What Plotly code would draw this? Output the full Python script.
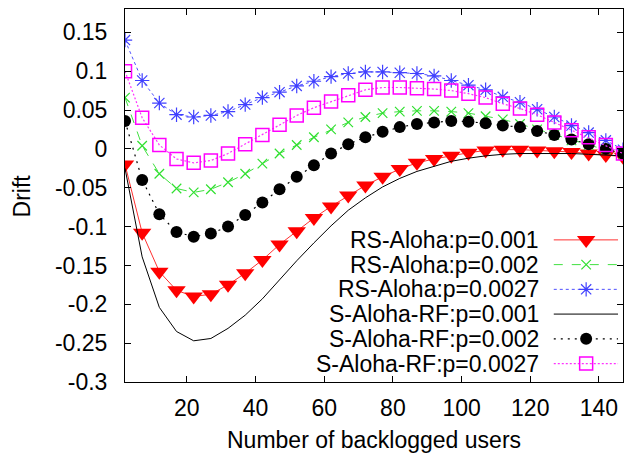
import plotly.graph_objects as go

# ---- data ----
users = [2, 7, 12, 17, 22, 27, 32, 37, 42, 47, 52, 57, 62, 67, 72, 77, 82, 87, 92, 97,
         102, 107, 112, 117, 122, 127, 132, 137, 142, 147]

rs_p001 = [-0.020, -0.108, -0.158, -0.182, -0.190, -0.187, -0.175, -0.160, -0.143, -0.123,
           -0.106, -0.089, -0.074, -0.060, -0.047, -0.036, -0.026, -0.018, -0.013, -0.009,
           -0.005, -0.002, -0.001, -0.001, -0.002, -0.003, -0.004, -0.006, -0.008, -0.010]
rs_p002 = [0.066, 0.004, -0.032, -0.051, -0.056, -0.052, -0.043, -0.032, -0.019, -0.006,
           0.005, 0.015, 0.025, 0.034, 0.041, 0.046, 0.048, 0.049, 0.049, 0.048,
           0.046, 0.042, 0.038, 0.032, 0.025, 0.018, 0.011, 0.005, -0.001, -0.008]
rs_p0027 = [0.140, 0.088, 0.059, 0.044, 0.041, 0.043, 0.048, 0.057, 0.066, 0.073,
            0.081, 0.087, 0.093, 0.097, 0.099, 0.099, 0.098, 0.097, 0.094, 0.088,
            0.082, 0.076, 0.067, 0.060, 0.051, 0.041, 0.030, 0.021, 0.011, -0.001]
s_p001 = [-0.025, -0.139, -0.204, -0.235, -0.247, -0.244, -0.231, -0.214, -0.193, -0.168,
          -0.144, -0.121, -0.099, -0.079, -0.063, -0.049, -0.038, -0.029, -0.022, -0.016,
          -0.012, -0.009, -0.007, -0.006, -0.006, -0.006, -0.006, -0.007, -0.008, -0.009]
s_p002 = [0.036, -0.040, -0.084, -0.107, -0.113, -0.109, -0.100, -0.085, -0.069, -0.052,
          -0.036, -0.021, -0.006, 0.006, 0.015, 0.022, 0.028, 0.032, 0.034, 0.036,
          0.035, 0.033, 0.030, 0.028, 0.023, 0.018, 0.012, 0.006, 0.000, -0.006]
s_p0027 = [0.100, 0.040, 0.005, -0.013, -0.018, -0.015, -0.006, 0.006, 0.018, 0.031,
           0.043, 0.053, 0.061, 0.069, 0.076, 0.079, 0.079, 0.078, 0.077, 0.075,
           0.071, 0.066, 0.058, 0.052, 0.044, 0.034, 0.024, 0.015, 0.005, -0.006]

series_names = ["RS-Aloha:p=0.001", "RS-Aloha:p=0.002", "RS-Aloha:p=0.0027",
                "S-Aloha-RF:p=0.001", "S-Aloha-RF:p=0.002", "S-Aloha-RF:p=0.0027"]

x_tick_vals = [20, 40, 60, 80, 100, 120, 140]
y_tick_vals = [-0.3, -0.25, -0.2, -0.15, -0.1, -0.05, 0, 0.05, 0.1, 0.15]
y_tick_text = ["-0.3", "-0.25", "-0.2", "-0.15", "-0.1", "-0.05", "0", "0.05", "0.1", "0.15"]

x_title = "Number of backlogged users"
y_title = "Drift"

# ---- styles ----
styles = [
    dict(line=dict(color="#ff3030", width=1, dash="solid"),
         marker=dict(symbol="triangle-down", size=16, color="#ff0000"), mode="lines+markers"),
    dict(line=dict(color="#40e040", width=1, dash="dash"),
         marker=dict(symbol="x-thin-open", size=9.5, color="#30e030", line=dict(width=1.2, color="#30e030")),
         mode="lines+markers"),
    dict(line=dict(color="#5050ff", width=1, dash="dot"),
         marker=dict(symbol="asterisk-open", size=12, color="#4040ff", line=dict(width=1.2, color="#4040ff")),
         mode="lines+markers"),
    dict(line=dict(color="#000000", width=1, dash="solid"), mode="lines"),
    dict(line=dict(color="#000000", width=1.2, dash="2px,5px"),
         marker=dict(symbol="circle", size=12, color="#000000"), mode="lines+markers"),
    dict(line=dict(color="#ff30ff", width=1.2, dash="2px,2px"),
         marker=dict(symbol="square-open", size=13, color="#ff00ff", line=dict(width=1.5, color="#ff00ff")),
         mode="lines+markers"),
]

all_series = [rs_p001, rs_p002, rs_p0027, s_p001, s_p002, s_p0027]

fig = go.Figure()
for name, ys, st in zip(series_names, all_series, styles):
    kw = dict(x=users, y=ys, name=name, mode=st["mode"], line=st["line"], showlegend=False)
    if "marker" in st:
        kw["marker"] = st["marker"]
    fig.add_trace(go.Scatter(**kw))

# ---- custom legend (text left of sample, like gnuplot) ----
FONT = "Liberation Sans, Arial, sans-serif"
FS = 23
leg_top = 0.381
leg_step = 0.0663
text_x = 0.834
line_x0, line_x1, mark_x = 0.861, 0.99, 0.926
for i, (name, st) in enumerate(zip(series_names, styles)):
    yy = leg_top - i * leg_step
    fig.add_trace(go.Scatter(x=[line_x0, line_x1], y=[yy, yy], mode="lines", line=st["line"],
                             xaxis="x2", yaxis="y2", showlegend=False, hoverinfo="skip"))
    if "marker" in st:
        fig.add_trace(go.Scatter(x=[mark_x], y=[yy], mode="markers", marker=st["marker"],
                                 xaxis="x2", yaxis="y2", showlegend=False, hoverinfo="skip"))
    fig.add_annotation(x=text_x, y=yy, xref="x2", yref="y2", text=name, showarrow=False,
                       xanchor="right", yanchor="middle", borderpad=0,
                       font=dict(size=FS, color="black", family=FONT))

# axis titles as annotations
fig.add_annotation(x=0.5, y=-0.155, xref="paper", yref="paper", text=x_title, showarrow=False,
                   xanchor="center", yanchor="middle", font=dict(size=FS, color="black", family=FONT))
fig.add_annotation(x=-0.207, y=0.5, xref="paper", yref="paper", text=y_title, showarrow=False,
                   textangle=-90, xanchor="center", yanchor="middle",
                   font=dict(size=FS, color="black", family=FONT))

axis_common = dict(showline=True, linecolor="black", linewidth=1, mirror="ticks",
                   ticks="inside", ticklen=6, tickcolor="black", tickwidth=1,
                   showgrid=False, zeroline=False, automargin=False,
                   tickfont=dict(size=FS, color="black", family=FONT))

# page body has an 8px default margin, so the figure is 8px smaller and offset
fig.update_layout(
    width=632, height=450,
    margin=dict(l=117, r=17, t=1, b=76),
    paper_bgcolor="white", plot_bgcolor="white",
    font=dict(family=FONT, size=FS, color="black"),
    xaxis=dict(range=[2, 147], tickvals=x_tick_vals, ticklabelstandoff=5, **axis_common),
    yaxis=dict(range=[-0.3, 0.18], tickvals=y_tick_vals, ticktext=y_tick_text, ticklabelstandoff=12,
               **axis_common),
    xaxis2=dict(range=[0, 1], overlaying="x", visible=False, fixedrange=True),
    yaxis2=dict(range=[0, 1], overlaying="y", visible=False, fixedrange=True),
)

fig.write_html("out.html")
